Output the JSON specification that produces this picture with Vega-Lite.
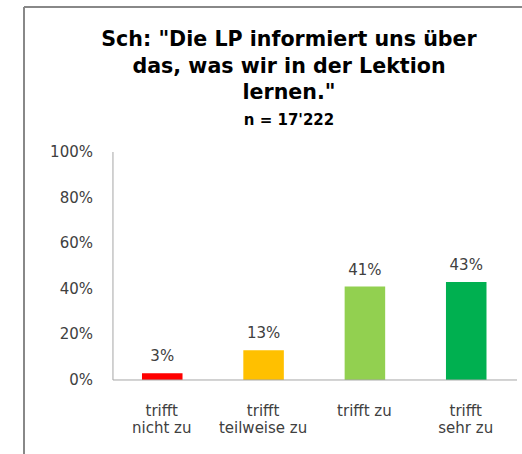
{
  "$schema": "https://vega.github.io/schema/vega-lite/v6.json",
  "width": 498,
  "height": 447,
  "autosize": {"type": "none"},
  "padding": {"left": 24, "top": 7, "right": 0, "bottom": 0},
  "background": "white",
  "config": {"view": {"stroke": null}, "font": "DejaVu Sans", "axis": {"translate": 0}},
  "title": {
    "text": ["Sch: \"Die LP informiert uns über", "das, was wir in der Lektion", "lernen.\""],
    "subtitle": "n = 17'222",
    "anchor": "middle",
    "frame": "group",
    "dx": 16,
    "offset": -121,
    "font": "DejaVu Sans",
    "fontSize": 20.6,
    "fontWeight": "bold",
    "color": "#000000",
    "lineHeight": 26.5,
    "subtitleFont": "DejaVu Sans",
    "subtitleFontSize": 15,
    "subtitleFontWeight": "bold",
    "subtitleColor": "#000000",
    "subtitlePadding": 9
  },
  "datasets": {
    "bars": [
      {"cat": "trifft nicht zu", "pct": 0.03},
      {"cat": "trifft teilweise zu", "pct": 0.13},
      {"cat": "trifft zu", "pct": 0.41},
      {"cat": "trifft sehr zu", "pct": 0.43}
    ],
    "axisline": [{"v": 0}]
  },
  "resolve": {"axis": {"x": "independent", "y": "independent"}},
  "layer": [
    {
      "data": {"name": "bars"},
      "mark": {"type": "bar"},
      "encoding": {
        "x": {
          "field": "cat", "type": "nominal", "sort": null,
          "scale": {"domain": ["trifft nicht zu", "trifft teilweise zu", "trifft zu", "trifft sehr zu"], "paddingInner": 0.6, "paddingOuter": 0.7574, "align": 0.7687, "round": false},
          "axis": {"orient": "bottom", "offset": -74, "domain": false, "ticks": false, "grid": false, "labelPadding": 24, "labelFont": "DejaVu Sans", "labelFontSize": 15, "labelColor": "#404040", "labelLineHeight": 17, "labelAngle": 0, "title": null,
            "labelExpr": "datum.value === 'trifft zu' ? datum.value : ['trifft', substring(datum.value, 7)]"}
        },
        "y": {
          "field": "pct", "type": "quantitative",
          "scale": {"domain": [-0.3246, 1.636], "nice": false, "zero": false},
          "axis": {"orient": "left", "offset": -89, "values": [0, 0.2, 0.4, 0.6, 0.8, 1], "format": ".0%", "domain": false, "ticks": false, "grid": false, "labelPadding": 20, "labelFont": "DejaVu Sans", "labelFontSize": 15, "labelColor": "#404040", "title": null}
        },
        "y2": {"datum": 0},
        "color": {
          "field": "cat", "type": "nominal",
          "scale": {"domain": ["trifft nicht zu", "trifft teilweise zu", "trifft zu", "trifft sehr zu"], "range": ["#FF0000", "#FFC000", "#92D050", "#00B050"]},
          "legend": null
        }
      }
    },
    {
      "data": {"name": "bars"},
      "mark": {"type": "text", "baseline": "alphabetic", "dy": -12, "font": "DejaVu Sans", "fontSize": 15, "color": "#404040"},
      "encoding": {
        "x": {
          "field": "cat", "type": "nominal", "sort": null,
          "scale": {"domain": ["trifft nicht zu", "trifft teilweise zu", "trifft zu", "trifft sehr zu"]},
          "axis": {"orient": "top", "offset": 0, "domain": true, "domainColor": "#888888", "domainWidth": 2, "labels": false, "ticks": false, "grid": false, "title": null}
        },
        "y": {
          "field": "pct", "type": "quantitative",
          "axis": {"orient": "left", "offset": 0, "domain": true, "domainColor": "#888888", "domainWidth": 2, "labels": false, "ticks": false, "grid": false, "title": null}
        },
        "text": {"field": "pct", "type": "quantitative", "format": ".0%"}
      }
    },
    {
      "data": {"name": "axisline"},
      "mark": {"type": "rule", "color": "#A6A6A6", "strokeWidth": 1},
      "encoding": {
        "x": {"datum": "trifft nicht zu", "bandPosition": -0.716, "axis": null},
        "y": {"datum": 0, "axis": null},
        "y2": {"datum": 1}
      }
    },
    {
      "data": {"name": "axisline"},
      "mark": {"type": "rule", "color": "#A6A6A6", "strokeWidth": 1},
      "encoding": {
        "x": {"datum": "trifft nicht zu", "bandPosition": -0.716, "axis": null},
        "x2": {"datum": "trifft sehr zu", "bandPosition": 1.753},
        "y": {"datum": 0, "axis": null}
      }
    }
  ]
}
